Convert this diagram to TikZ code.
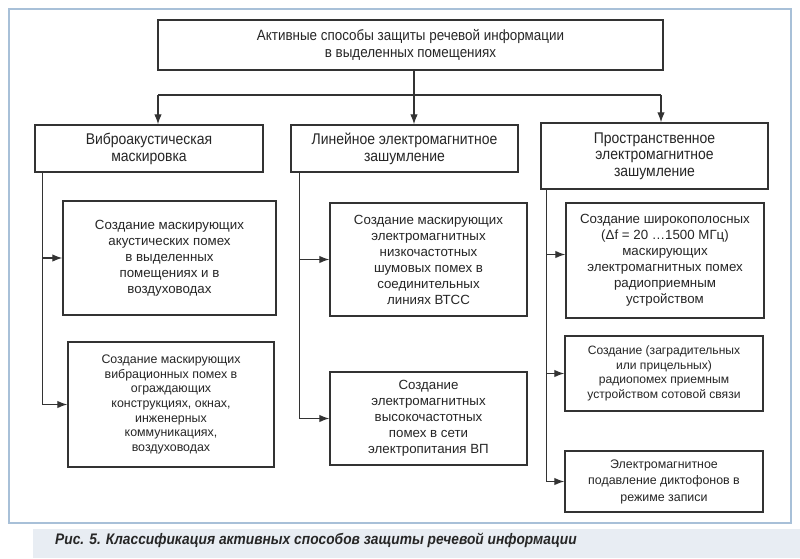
\documentclass[tikz,border=0pt]{standalone}
\usepackage{fontspec}
\setmainfont{Liberation Sans}
\newfontfamily\narrowfont[FakeStretch=0.9]{Liberation Sans}
\newfontfamily\capfont[FakeStretch=0.9]{Liberation Sans}
\usetikzlibrary{arrows.meta,calc}
\definecolor{lncol}{HTML}{333333}
\definecolor{txtcol}{HTML}{262626}
\definecolor{framecol}{HTML}{A8C0D8}
\definecolor{bandcol}{HTML}{E8EDF3}
\begin{document}
\begin{tikzpicture}[x=1pt,y=-1pt,
  box/.style={draw=lncol, line width=1.4pt, rectangle, inner sep=0pt, align=center,
    text=txtcol, font=\fontsize{13.3}{16}\selectfont},
  hbox/.style={box, font=\narrowfont\fontsize{15.5}{17}\selectfont},
  conn/.style={draw=lncol, line width=1.3pt},
  arr/.style={conn, -{Latex[length=10pt,width=7.5pt]}}]
\useasboundingbox (0,0) rectangle (800,558);
\fill[white] (0,0) rectangle (800,558);
\fill[bandcol] (33,529) rectangle (800,558);
\draw[framecol, line width=1.5pt] (9,9) rectangle (791,523);

% top
\node[hbox, minimum width=505pt, minimum height=50pt, font=\narrowfont\fontsize{14.9}{17}\selectfont] (top) at (410.5,45)
  {Активные способы защиты речевой информации\\в выделенных помещениях};

% headers
\node[hbox, minimum width=228pt, minimum height=47pt] (H1) at (149,148.5)
  {Виброакустическая\\маскировка};
\node[hbox, minimum width=227pt, minimum height=47pt] (H2) at (404.5,148.5)
  {Линейное электромагнитное\\зашумление};
\node[hbox, minimum width=227pt, minimum height=66pt, font=\narrowfont\fontsize{15.5}{16.5}\selectfont] (H3) at (654.5,156)
  {Пространственное\\электромагнитное\\зашумление};

% column 1
\node[box, minimum width=213pt, minimum height=114pt] (A1) at (169.5,258)
  {Создание маскирующих\\акустических помех\\в выделенных\\помещениях и в\\воздуховодах};
\node[box, minimum width=206pt, minimum height=125pt, font=\fontsize{12.4}{14.7}\selectfont] (A2) at (171,404.5)
  {Создание маскирующих\\вибрационных помех в\\ограждающих\\конструкциях, окнах,\\инженерных\\коммуникациях,\\воздуховодах};

% column 2
\node[box, minimum width=197pt, minimum height=113pt] (B1) at (428.5,259.5)
  {Создание маскирующих\\электромагнитных\\низкочастотных\\шумовых помех в\\соединительных\\линиях ВТСС};
\node[box, minimum width=197pt, minimum height=93pt] (B2) at (428.5,418.5)
  {Создание\\электромагнитных\\высокочастотных\\помех в сети\\электропитания ВП};

% column 3
\node[box, minimum width=198pt, minimum height=115pt] (C1) at (665,260.5)
  {Создание широкополосных\\(Δf = 20 …1500 МГц)\\маскирующих\\электромагнитных помех\\радиоприемным\\устройством};
\node[box, minimum width=198pt, minimum height=75pt, font=\fontsize{12.1}{14.5}\selectfont] (C2) at (664,373.5)
  {Создание (заградительных\\или прицельных)\\радиопомех приемным\\устройством сотовой связи};
\node[box, minimum width=198pt, minimum height=61pt, font=\fontsize{12.4}{16.5}\selectfont] (C3) at (664,481.5)
  {Электромагнитное\\подавление диктофонов в\\режиме записи};

% top connectors
\coordinate (t2) at (414,70);
\coordinate (hl) at (158,95);
\coordinate (hr) at (661,95);
\draw[arr] (t2) -- (t2 |- H2.north);
\draw[conn] (hl) -- (hr);
\draw[arr] (hl) -- (hl |- H1.north);
\draw[arr] (hr) -- (hr |- H3.north);

% buses
\coordinate (b1) at ([xshift=8pt]H1.south west);
\coordinate (b2) at ([xshift=9pt]H2.south west);
\coordinate (b3) at ([xshift=6pt]H3.south west);
\draw[arr] (b1) |- (A2.west);
\draw[arr] (b1 |- A1.west) -- (A1.west);
\draw[arr] (b2) |- (B2.west);
\draw[arr] (b2 |- B1.west) -- (B1.west);
\draw[arr] (b3) |- (C3.west);
\draw[arr] ([yshift=6pt]b3 |- C1.west) -- ([yshift=6pt]C1.west);
\draw[arr] (b3 |- C2.west) -- (C2.west);

% caption
\node[anchor=west, text=txtcol, inner sep=0pt, font=\capfont\bfseries\itshape\fontsize{15.3}{17}\selectfont] (cap) at (55,540)
  {Рис. 5. Классификация активных способов защиты речевой информации};
\end{tikzpicture}
\end{document}
